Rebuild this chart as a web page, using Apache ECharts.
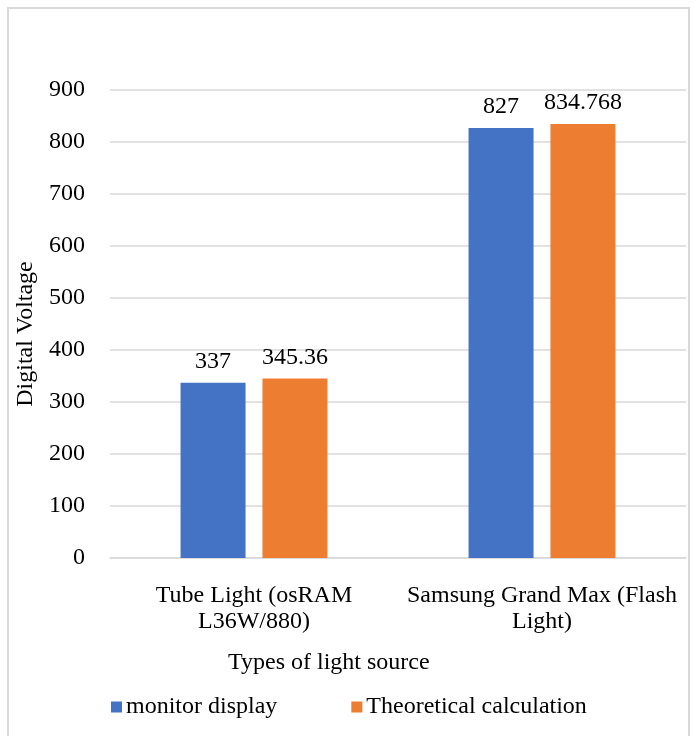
<!DOCTYPE html>
<html><head><meta charset="utf-8">
<script src="https://cdn.jsdelivr.net/npm/echarts@6/dist/echarts.min.js"></script>
<style>html,body{margin:0;padding:0;background:#fff}#c{width:696px;height:736px}</style>
</head><body><div id="c"></div>
<script>
const categories = ['Tube Light (osRAM\nL36W/880)', 'Samsung Grand Max (Flash\nLight)'];
const monitorDisplay = [337, 827];
const theoretical = [345.36, 834.768];
const seriesNames = ['monitor display', 'Theoretical calculation'];
const yTicks = {min: 0, max: 900, interval: 100};

const font = '"Liberation Serif", "Times New Roman", serif';
const fs = 24;
const chart = echarts.init(document.getElementById('c'));
chart.setOption({
  animation: false,
  textStyle: {fontFamily: font},
  graphic: [
    {type: 'rect', shape: {x: 8, y: 8, width: 681, height: 740}, style: {fill: 'none', stroke: '#d9d9d9', lineWidth: 2}, silent: true},
    {type: 'text', left: 228, top: 651, style: {text: 'Types of light source', font: fs + 'px ' + font, fill: '#000'}}
  ],
  grid: {left: 110, right: 10, top: 90, bottom: 178},
  legend: {
    left: 106, top: 690, itemWidth: 11, itemHeight: 11, itemGap: 74,
    icon: 'rect',
    textStyle: {fontFamily: font, fontSize: fs, color: '#000', padding: [0, 0, 0, -1]},
    data: seriesNames
  },
  xAxis: {
    type: 'category', data: categories,
    axisLine: {lineStyle: {color: '#d9d9d9', width: 1.5}},
    axisTick: {show: false},
    axisLabel: {color: '#000', fontFamily: font, fontSize: fs, lineHeight: 26, margin: 25, interval: 0}
  },
  yAxis: {
    type: 'value', min: yTicks.min, max: yTicks.max, interval: yTicks.interval,
    name: 'Digital Voltage', nameLocation: 'middle', nameGap: 70,
    nameTextStyle: {color: '#000', fontFamily: font, fontSize: fs, padding: [0, 20, 0, 0]},
    axisLine: {show: false}, axisTick: {show: false},
    axisLabel: {color: '#000', fontFamily: font, fontSize: fs, margin: 25},
    splitLine: {lineStyle: {color: '#d9d9d9', width: 1.5}}
  },
  series: [
    {name: seriesNames[0], type: 'bar', data: monitorDisplay, barWidth: 65, barGap: '26%',
     itemStyle: {color: '#4472C4'},
     label: {show: true, position: 'top', distance: 9, color: '#000', fontFamily: font, fontSize: fs}},
    {name: seriesNames[1], type: 'bar', data: theoretical, barWidth: 65,
     itemStyle: {color: '#ED7D31'},
     label: {show: true, position: 'top', distance: 9, color: '#000', fontFamily: font, fontSize: fs}}
  ]
});
</script></body></html>
